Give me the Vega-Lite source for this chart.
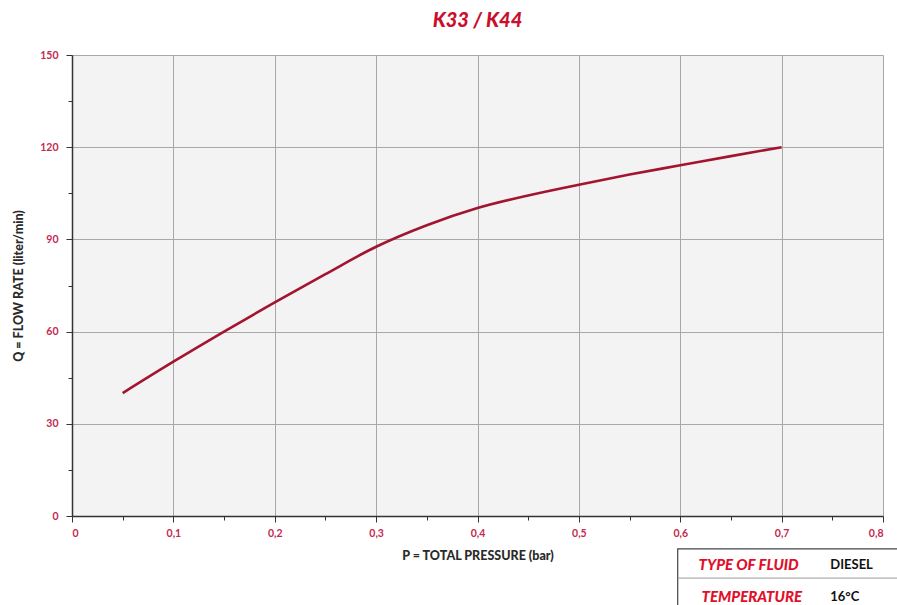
{
  "$schema": "https://vega.github.io/schema/vega-lite/v6.json",
  "width": 811,
  "height": 461,
  "autosize": {"type": "none"},
  "padding": {"left": 72, "top": 55, "right": 14, "bottom": 89},
  "background": "white",
  "title": {
    "text": "K33 / K44",
    "fontSize": 20,
    "font": "Lato",
    "fontWeight": 900,
    "fontStyle": "italic",
    "color": "#c8102e",
    "anchor": "middle",
    "offset": 19
  },
  "config": {
    "view": {"fill": "#f3f3f3", "stroke": null},
    "axis": {
      "labelFont": "Lato",
      "labelFontWeight": "bold",
      "labelFontSize": 10.5,
      "labelColor": "#c42a50",
      "titleFont": "Lato",
      "titleFontWeight": 900,
      "titleFontSize": 12.5,
      "titleColor": "#2a2a2a",
      "domainColor": "#333333",
      "domainWidth": 1.5,
      "tickColor": "#333333",
      "gridColor": "#a8a8a8",
      "gridWidth": 1
    }
  },
  "datasets": {
    "curve": [
      {"p": 0.05, "q": 40},
      {"p": 0.1, "q": 50.2},
      {"p": 0.15, "q": 60},
      {"p": 0.2, "q": 69.5},
      {"p": 0.25, "q": 78.7},
      {"p": 0.3, "q": 87.6},
      {"p": 0.35, "q": 94.6},
      {"p": 0.4, "q": 100.2},
      {"p": 0.45, "q": 104.3},
      {"p": 0.5, "q": 107.8},
      {"p": 0.55, "q": 111.1},
      {"p": 0.6, "q": 114.1},
      {"p": 0.65, "q": 117.1},
      {"p": 0.7, "q": 120}
    ]
  },
  "layer": [
    {
      "data": {"name": "curve"},
      "mark": {"type": "line", "interpolate": "monotone", "stroke": "#a3152f", "strokeWidth": 2.6},
      "encoding": {
        "x": {
          "field": "p",
          "type": "quantitative",
          "scale": {"domain": [0, 0.8], "nice": false},
          "axis": {
            "title": "P = TOTAL PRESSURE (bar)",
            "values": [0, 0.05, 0.1, 0.15, 0.2, 0.25, 0.3, 0.35, 0.4, 0.45, 0.5, 0.55, 0.6, 0.65, 0.7, 0.75, 0.8],
            "labelExpr": "round(datum.value*100) % 10 === 0 ? replace(format(datum.value, '.1~f'), '.', ',') : ''",
            "gridOpacity": {"condition": {"test": "round(datum.value*100) % 10 !== 0", "value": 0}, "value": 1},
            "tickSize": {"condition": {"test": "round(datum.value*100) % 10 !== 0", "value": 4}, "value": 6},
            "labelPadding": 6,
            "titlePadding": 11
          }
        },
        "y": {
          "field": "q",
          "type": "quantitative",
          "scale": {"domain": [0, 150], "nice": false},
          "axis": {
            "title": "Q = FLOW RATE (liter/min)",
            "values": [0, 15, 30, 45, 60, 75, 90, 105, 120, 135, 150],
            "labelExpr": "datum.value % 30 === 0 ? datum.label : ''",
            "gridOpacity": {"condition": {"test": "datum.value % 30 !== 0", "value": 0}, "value": 1},
            "tickSize": {"condition": {"test": "datum.value % 30 !== 0", "value": 4}, "value": 6},
            "labelPadding": 8,
            "titlePadding": 14
          }
        }
      }
    },
    {
      "data": {"values": [{}]},
      "mark": {"type": "rect", "fill": "white", "stroke": "#444444", "strokeWidth": 1.2, "clip": false},
      "encoding": {
        "x": {"datum": 0.5975},
        "x2": {"datum": 0.83},
        "y": {"datum": -10.7},
        "y2": {"datum": -32}
      }
    },
    {
      "data": {"values": [{}]},
      "mark": {"type": "rule", "stroke": "#999999", "strokeWidth": 1},
      "encoding": {
        "x": {"datum": 0.5975},
        "x2": {"datum": 0.83},
        "y": {"datum": -20.2}
      }
    },
    {
      "data": {"values": [{}]},
      "mark": {"type": "text", "text": "TYPE OF FLUID", "align": "left", "baseline": "middle", "font": "Lato", "fontWeight": 900, "fontStyle": "italic", "fontSize": 15, "fill": "#e0102a"},
      "encoding": {"x": {"datum": 0.618}, "y": {"datum": -15.8}}
    },
    {
      "data": {"values": [{}]},
      "mark": {"type": "text", "text": "DIESEL", "align": "left", "baseline": "middle", "font": "Lato", "fontWeight": "bold", "fontSize": 13, "fill": "#111111"},
      "encoding": {"x": {"datum": 0.748}, "y": {"datum": -15.8}}
    },
    {
      "data": {"values": [{}]},
      "mark": {"type": "text", "text": "TEMPERATURE", "align": "left", "baseline": "middle", "font": "Lato", "fontWeight": 900, "fontStyle": "italic", "fontSize": 15, "fill": "#e0102a"},
      "encoding": {"x": {"datum": 0.621}, "y": {"datum": -26.2}}
    },
    {
      "data": {"values": [{}]},
      "mark": {"type": "text", "text": "16°C", "align": "left", "baseline": "middle", "font": "Lato", "fontWeight": "bold", "fontSize": 13, "fill": "#111111"},
      "encoding": {"x": {"datum": 0.748}, "y": {"datum": -26.2}}
    }
  ]
}
